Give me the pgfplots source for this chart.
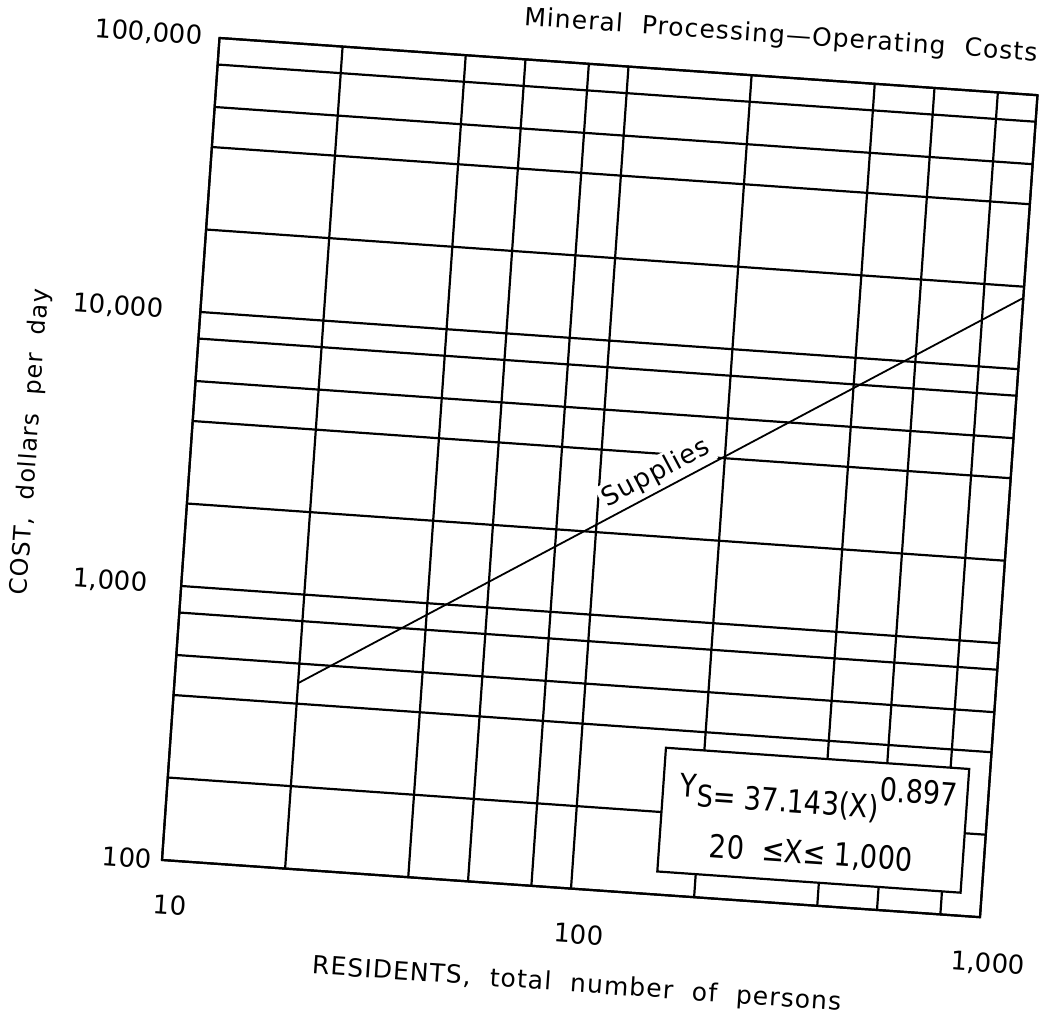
\documentclass[border=0pt]{standalone}
\usepackage{fontspec}
\setmainfont{DejaVu Sans}
\newfontfamily\lblfont[LetterSpace=4.4, WordSpace=2.1]{DejaVu Sans}
\newfontfamily\boxfont[FakeStretch=0.85]{DejaVu Sans}
\usepackage{pgfplots}
\pgfplotsset{compat=1.18}
\begin{document}
\begin{tikzpicture}
\begin{scope}[shift={(81pt,84pt)}, rotate=-4, transform shape]
\begin{axis}[
  at={(0,0)}, anchor=south west,
  scale only axis, width=410pt, height=412pt,
  xmode=log, ymode=log,
  xmin=10, xmax=1000, ymin=100, ymax=100000,
  xtick={10,100,1000}, xticklabels={10,100,{1,000}},
  ytick={100,1000,10000,100000},
  yticklabels={100,{1,000\hspace*{12pt}},{10,000\hspace*{13.5pt}},{100,000\hspace*{3.5pt}}},
  minor xtick={20,40,56,80,200,400,560,800},
  minor ytick={200,400,560,800,2000,4000,5600,8000,20000,40000,56000,80000},
  grid=both,
  major grid style={black, line width=1.1pt},
  minor grid style={black, line width=1.1pt},
  axis line style={black, line width=1.1pt},
  major tick length=0pt, minor tick length=0pt,
  tick label style={font=\fontsize{13}{15}\selectfont},
  /pgf/number format/assume math mode=true,
  xticklabel style={yshift=-14pt, xshift=5.5pt},
  yticklabel style={xshift=-1.5pt},
  clip=false,
]
\addplot[black, line width=0.9pt] coordinates {(20,475) (1000,18200)}
  node[pos=0.505, sloped, anchor=south, yshift=0.5pt, fill=white, inner sep=1.5pt, font=\lblfont\fontsize{13}{15}\selectfont] {Supplies};
\node[draw, line width=1.1pt, fill=white, anchor=south east, minimum width=152pt, minimum height=62pt, align=center, inner sep=0pt, font=\boxfont\fontsize{16}{18}\selectfont]
  at ([xshift=-10pt,yshift=11pt]rel axis cs:1,0)
  {\hspace*{4pt}\raisebox{4pt}{Y}{\fontsize{15}{16}\selectfont S}= 37.143(X)\raisebox{9pt}{0.897}\\[7pt] 20\hspace{9pt}≤X≤ 1,000};
\node[anchor=base east, font=\lblfont\fontsize{12.5}{14}\selectfont] at ([xshift=2pt,yshift=17pt]rel axis cs:1,1) {Mineral Processing—Operating Costs};
\node[anchor=center, font=\lblfont\fontsize{12.5}{14}\selectfont] at ([yshift=-48pt]rel axis cs:0.515,0) {RESIDENTS, total number of persons};
\node[rotate=90, anchor=center, font=\lblfont\fontsize{12}{14}\selectfont] at ([xshift=-80pt]rel axis cs:0,0.495) {COST, dollars per day};
\end{axis}
\end{scope}
\pgfresetboundingbox
\path[use as bounding box] (0,0) rectangle (522.5pt,514pt);
\end{tikzpicture}
\end{document}
